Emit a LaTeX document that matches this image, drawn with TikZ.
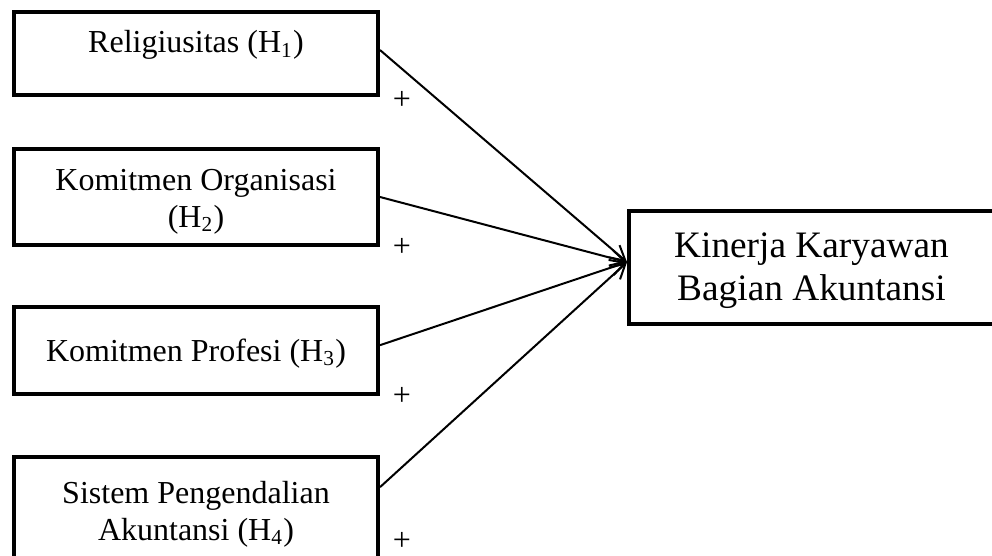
\documentclass[tikz,border=0pt]{standalone}
\usepackage{fontspec}
\setmainfont{Liberation Serif}
\usetikzlibrary{arrows.meta}

\begin{document}
\begin{tikzpicture}[x=0.375pt,y=-0.375pt,
  varbox/.style={draw,line width=1.5pt,minimum width=136.5pt,inner sep=0pt},
  vartext/.style={anchor=base,align=center,inner sep=0pt,font=\fontsize{12}{13.8}\selectfont},
  plus/.style={inner sep=0pt,font=\fontsize{12}{13.8}\selectfont},
  link/.style={line width=0.75pt,-{Straight Barb[length=5.5pt,width=6pt]}}]
  \useasboundingbox (0,0) rectangle (992,556);
  \clip (0,0) rectangle (992,556);
  % independent variables
  \node[varbox,minimum height=31.1pt] (r1) at (196,53.5) {};
  \node[varbox,minimum height=36pt]   (r2) at (196,197) {};
  \node[varbox,minimum height=32.6pt] (r3) at (196,350.5) {};
  \node[varbox,minimum height=38.6pt] (r4) at (196,508.5) {};
  \node[vartext] (t1) at (196,53) {Religiusitas (H\textsubscript{1})};
  \node[vartext] (t2) at (196,227) {Komitmen Organisasi\\(H\textsubscript{2})};
  \node[vartext] (t3) at (196,361) {Komitmen Profesi (H\textsubscript{3})};
  \node[vartext] (t4) at (196,540) {Sistem Pengendalian\\Akuntansi (H\textsubscript{4})};
  % dependent variable
  \node[draw,line width=1.5pt,minimum width=139.1pt,minimum height=42.4pt,inner sep=0pt] (kin) at (814.5,267.5) {};
  \node[vartext,font=\fontsize{14}{16.1}\selectfont] (tk) at (811.5,300) {Kinerja Karyawan\\Bagian Akuntansi};
  \coordinate (tip) at ([yshift=2pt]kin.west);
  % hypotheses
  \path[link]
    ([yshift=1.3pt]r1.east) edge (tip)
    (r2.east) edge (tip)
    ([yshift=2pt]r3.east) edge (tip)
    ([yshift=8pt]r4.east) edge (tip);
  \foreach \i/\y in {1/100,2/247,3/396,4/541}
    \node[plus] (p\i) at (402,\y) {+};
\end{tikzpicture}
\end{document}
